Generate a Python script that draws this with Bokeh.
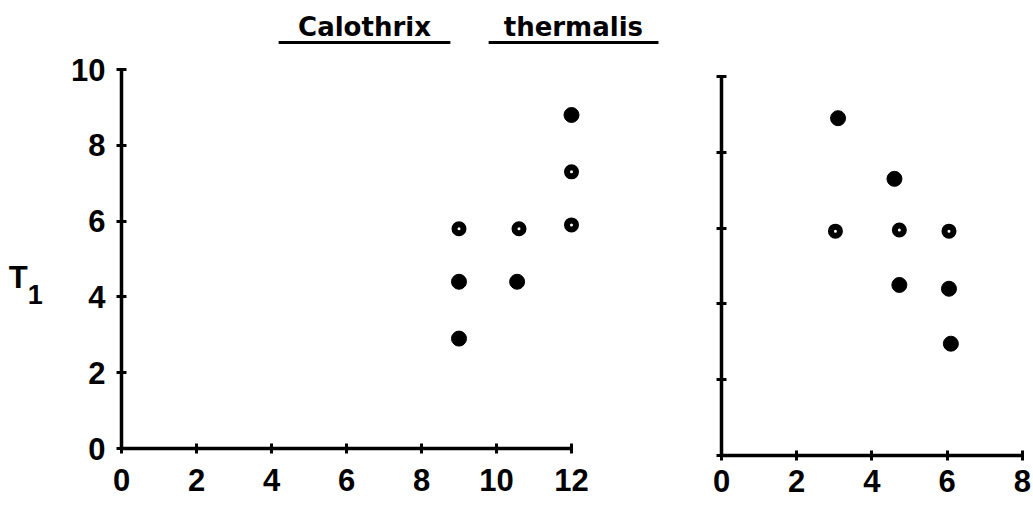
from bokeh.plotting import figure
from bokeh.models import Range1d, FixedTicker
from bokeh.layouts import row
from bokeh.core.properties import value
from bokeh.embed import file_html
from bokeh.resources import INLINE

# ---- data ----
title_words = ["Calothrix", "thermalis"]
y_label_main = "T"
y_label_sub = "1"

left_x_ticks = [0, 2, 4, 6, 8, 10, 12]
right_x_ticks = [0, 2, 4, 6, 8]
y_ticks = [0, 2, 4, 6, 8, 10]

left_filled_x = [9.0, 9.0, 10.55, 12.0]
left_filled_y = [4.4, 2.9, 4.4, 8.8]
left_open_x = [9.0, 10.6, 12.0, 12.0]
left_open_y = [5.8, 5.8, 7.3, 5.9]

right_filled_x = [3.1, 4.6, 4.73, 6.05, 6.1]
right_filled_y = [8.9, 7.3, 4.5, 4.4, 2.95]
right_open_x = [3.03, 4.73, 6.05]
right_open_y = [5.92, 5.95, 5.92]

LBL_FONT = "Liberation Sans"
H = 501


def make_fig(width, x0_px, y0_px, xs, ys):
    """Figure whose frame fills the whole canvas; data origin at pixel (x0_px, y0_px)."""
    p = figure(width=width, height=H,
               x_range=Range1d(-x0_px / xs, (width - x0_px) / xs),
               y_range=Range1d(-(H - y0_px) / ys, y0_px / ys),
               min_border=0, min_border_left=0, min_border_right=0,
               min_border_top=0, min_border_bottom=0,
               toolbar_location=None, output_backend="svg",
               background_fill_color="white", border_fill_color="white")
    p.grid.visible = False
    p.outline_line_color = None
    return p


def style_axes(p, xticks, yticks, xbounds, ybounds, show_ylabels, xstand, ystand):
    for ax in (p.xaxis[0], p.yaxis[0]):
        ax.fixed_location = 0
        ax.axis_line_width = 3.5
        ax.axis_line_color = "black"
        ax.major_tick_line_width = 3
        ax.major_tick_line_color = "black"
        ax.major_tick_in = 5
        ax.major_tick_out = 5
        ax.minor_tick_line_color = None
        ax.major_label_text_font = LBL_FONT
        ax.major_label_text_font_style = "bold"
        ax.major_label_text_color = "black"
        ax.major_label_text_font_size = "31px"
    p.xaxis[0].ticker = FixedTicker(ticks=xticks)
    p.yaxis[0].ticker = FixedTicker(ticks=yticks)
    p.xaxis[0].bounds = xbounds
    p.yaxis[0].bounds = ybounds
    p.xaxis[0].major_label_standoff = xstand
    p.yaxis[0].major_label_standoff = ystand
    if not show_ylabels:
        p.yaxis[0].major_label_overrides = {t: "" for t in yticks}


# ---- left panel ----
p1 = make_fig(680, 121, 448, 37.5, 37.9)
style_axes(p1, left_x_ticks, y_ticks, (0, 12), (0, 10), True, 15, 11)

p1.scatter(left_filled_x, left_filled_y, size=15, fill_color="black", line_color="black")
p1.scatter(left_open_x, left_open_y, size=9, fill_color="white", line_color="black", line_width=6)

# title (two underlined words)
p1.text(x=[6.48, 12.05], y=[11.12, 11.12], text=title_words, text_align="center",
        text_baseline="alphabetic", text_font=value("DejaVu Sans"), text_font_style="bold",
        text_font_size="26px", text_color="black")
p1.segment(x0=[4.19, 9.79], x1=[8.77, 14.32], y0=[10.71, 10.71], y1=[10.71, 10.71],
           line_width=3, line_color="black")

# y-axis label T with subscript 1
p1.text(x=[-3.01], y=[4.5], text=[y_label_main], text_font=value(LBL_FONT),
        text_font_style="bold", text_font_size="31px", text_color="black",
        text_baseline="alphabetic", text_align="left")
p1.text(x=[-2.5], y=[4.07], text=[y_label_sub], text_font=value(LBL_FONT),
        text_font_style="bold", text_font_size="27px", text_color="black",
        text_baseline="alphabetic", text_align="left")

# ---- right panel ----
p2 = make_fig(353, 41, 455, 37.6, 37.9)
style_axes(p2, right_x_ticks, y_ticks, (0, 8), (0, 10), False, 9, 5)

p2.scatter(right_filled_x, right_filled_y, size=15, fill_color="black", line_color="black")
p2.scatter(right_open_x, right_open_y, size=9, fill_color="white", line_color="black", line_width=6)

layout = row(p1, p2)
open("out.html", "w").write(file_html(layout, INLINE))
